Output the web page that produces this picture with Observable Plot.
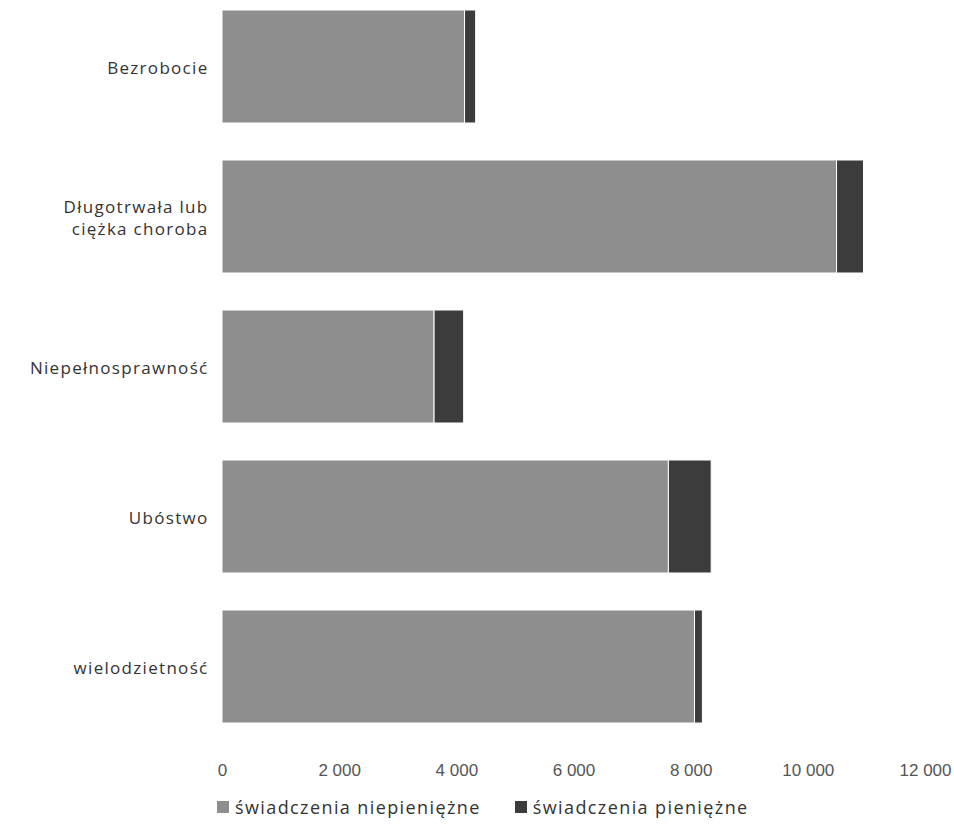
<!DOCTYPE html>
<html>
<head>
<meta charset="utf-8">
<script src="https://cdn.jsdelivr.net/npm/d3@7"></script>
<script src="https://cdn.jsdelivr.net/npm/@observablehq/plot@0.6"></script>
<style>
  body { margin: 0; background: #fff; font-family: "Liberation Sans", Arial, sans-serif; }
  #legend { display: flex; gap: 34px; margin-left: 217px; margin-top: 5px; font-family: "Open Sans", sans-serif; font-size: 18px; letter-spacing: 1.4px; color: #333; }
  #legend span.item { display: flex; align-items: center; }
  #legend span.sw { display: inline-block; width: 12px; height: 12px; margin-right: 6px; }
  .ylab text { letter-spacing: 1.3px; }
</style>
</head>
<body>
<div id="chart"></div>
<div id="legend"></div>
<script>
const categories = ["Bezrobocie", "Długotrwała lub\nciężka choroba", "Niepełnosprawność", "Ubóstwo", "wielodzietność"];
const seriesNames = ["świadczenia niepieniężne", "świadczenia pieniężne"];
const niepieniezne = [4140, 10490, 3620, 7620, 8065];
const pieniezne = [190, 460, 505, 730, 135];
const xTicks = [0, 2000, 4000, 6000, 8000, 10000, 12000];
const colors = ["#8e8e8e", "#3c3c3c"];

const data = [];
categories.forEach((c, i) => {
  data.push({category: c, series: seriesNames[0], value: niepieniezne[i]});
  data.push({category: c, series: seriesNames[1], value: pieniezne[i]});
});

const fmt = d => d3.format(",")(d).replace(/,/g, " ");

const chart = Plot.plot({
  width: 954,
  height: 790,
  marginLeft: 222,
  marginRight: 29,
  marginTop: 4,
  marginBottom: 62,
  style: {fontFamily: "Open Sans, sans-serif", fontSize: "17px", color: "#444"},
  x: {domain: [0, 12000], ticks: xTicks, tickFormat: fmt, label: null},
  y: {domain: categories, paddingInner: 0.25, paddingOuter: 0.03, label: null},
  color: {domain: seriesNames, range: colors},
  marks: [
    Plot.barX(data, Plot.stackX({y: "category", x: "value", fill: "series", stroke: "white", strokeWidth: 1, order: seriesNames})),
    Plot.axisX({ticks: xTicks, tickFormat: fmt, tickSize: 0, tickPadding: 35, fontSize: 17, fontFamily: "Liberation Sans, Arial, sans-serif", fill: "#555", label: null}),
    Plot.axisY({tickSize: 0, tickPadding: 14, fontSize: 17, fill: "#333", label: null, lineHeight: 1.3, className: "ylab"})
  ]
});
document.getElementById("chart").appendChild(chart);

const legend = document.getElementById("legend");
seriesNames.forEach((s, i) => {
  const item = document.createElement("span");
  item.className = "item";
  const sw = document.createElement("span");
  sw.className = "sw";
  sw.style.background = colors[i];
  item.appendChild(sw);
  item.appendChild(document.createTextNode(s));
  legend.appendChild(item);
});
</script>
</body>
</html>
